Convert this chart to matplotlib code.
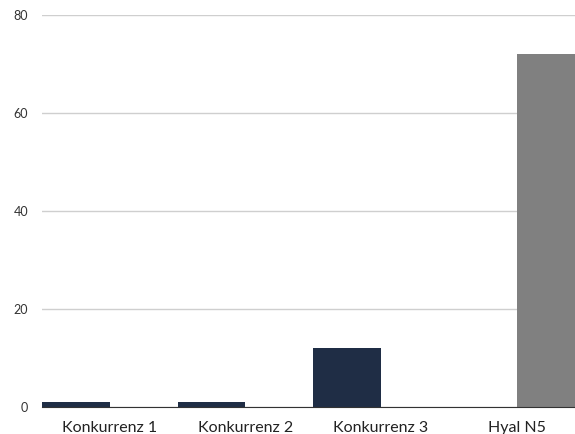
import numpy as np
import matplotlib.pyplot as plt

categories = ['Konkurrenz 1', 'Konkurrenz 2', 'Konkurrenz 3', 'Hyal N5']
navy_vals = [1, 1, 12, 0]
gray_vals = [0, 0, 0, 72]
y_ticks = [0, 20, 40, 60, 80]

plt.rcParams['font.family'] = ['Lato', 'DejaVu Sans']

fig = plt.figure(figsize=(5.75, 4.34), dpi=100)
ax = fig.add_axes([0.073, 0.0615, 0.927, 0.9035])

x = np.arange(len(categories))
w = 0.5
ax.bar(x - w / 2, navy_vals, width=w, color='#1f2d45', zorder=3)
ax.bar(x + w / 2, gray_vals, width=w, color='#808080', zorder=3)

ax.set_xlim(-0.5, 3.43)
ax.set_ylim(0, 80)
ax.set_yticks(y_ticks)
ax.set_xticks(x)
ax.set_xticklabels(categories, fontsize=11.5, color='#222222')
ax.tick_params(axis='y', length=0, pad=10, labelsize=9, labelcolor='#333333')
ax.tick_params(axis='x', length=0, pad=10)

ax.yaxis.grid(True, color='#cfcfcf', linewidth=1.0, zorder=0)
for s in ['top', 'right', 'left']:
    ax.spines[s].set_visible(False)
ax.spines['bottom'].set_color('#333333')
ax.spines['bottom'].set_linewidth(0.8)
ax.spines['bottom'].set_zorder(4)

fig.savefig('out.png', dpi=100)
